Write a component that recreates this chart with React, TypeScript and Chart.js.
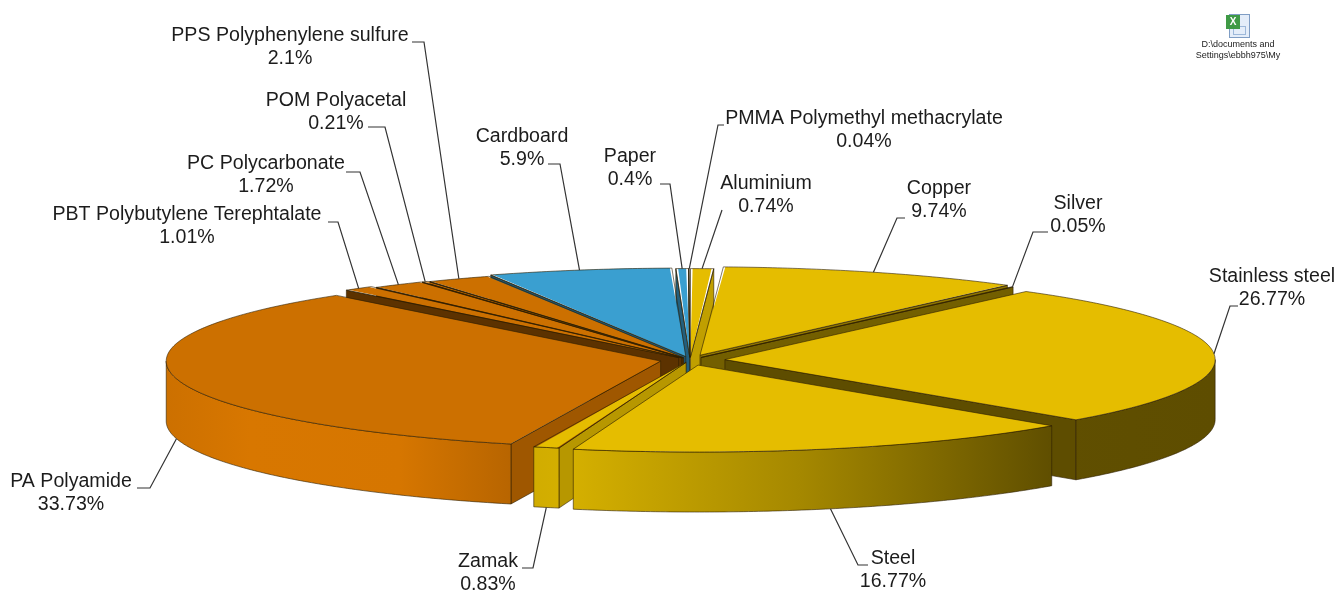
import React, { useEffect, useRef } from "react";
import { Chart, registerables } from "chart.js";

Chart.register(...registerables);

const materials = ["Aluminium", "Copper", "Silver", "Stainless steel", "Steel", "Zamak", "PA Polyamide",
  "PBT Polybutylene Terephtalate", "PC Polycarbonate", "POM Polyacetal", "PPS Polyphenylene sulfure",
  "Cardboard", "Paper", "PMMA Polymethyl methacrylate"];
const shares = [0.74, 9.74, 0.05, 26.77, 16.77, 0.83, 33.73, 1.01, 1.72, 0.21, 2.1, 5.9, 0.4, 0.04];

const YELLOW = [229, 189, 0];
const ORANGE = [204, 112, 0];
const BLUE = [58, 159, 208];
const sliceColors = [YELLOW, YELLOW, YELLOW, YELLOW, YELLOW, YELLOW, ORANGE, ORANGE, ORANGE, ORANGE, ORANGE, BLUE, BLUE, BLUE];
const explode = [60, 116, 72, 140, 120, 56, 120, 72, 60, 56, 56, 80, 60, 60];
const faceShade = [0.84, 0.62, 0.5, 0.41, 1, 0.8, 0.78, 0.45, 0.45, 0.45, 0.5, 0.55, 0.6, 0.6];

// wall light across the page: [x, brightness]
const wallLight = [[165, 1.0], [250, 1.06], [400, 1.05], [510, 0.9], [570, 0.93], [800, 0.72], [1050, 0.42], [1215, 0.41]];

// label centre x, first line middle y, then elbow of the leader
const labelBox = [
  { x: 766, y: 184, lx: 722, ly: 210 }, { x: 939, y: 189, lx: 905, ly: 218, ex: 897 },
  { x: 1078, y: 204, lx: 1048, ly: 232, ex: 1033 }, { x: 1272, y: 277, lx: 1238, ly: 306, ex: 1230 },
  { x: 893, y: 559, lx: 868, ly: 565, ex: 858 }, { x: 488, y: 562, lx: 522, ly: 568, ex: 533 },
  { x: 71, y: 482, lx: 137, ly: 488, ex: 150 }, { x: 187, y: 215, lx: 328, ly: 222, ex: 338 },
  { x: 266, y: 164, lx: 346, ly: 172, ex: 360 }, { x: 336, y: 101, lx: 368, ly: 127, ex: 385 },
  { x: 290, y: 36, lx: 412, ly: 42, ex: 424 }, { x: 522, y: 137, lx: 548, ly: 164, ex: 560 },
  { x: 630, y: 157, lx: 660, ly: 184, ex: 670 }, { x: 864, y: 119, lx: 724, ly: 125, ex: 718 },
];

const K = 0.176;
const DEPTH = 60;
const FONT = '19.6px "Liberation Sans", Arial, sans-serif';

const rgb = (c: number[], f: number) =>
  `rgb(${Math.min(255, Math.round(c[0] * f))},${Math.min(255, Math.round(c[1] * f))},${Math.min(255, Math.round(c[2] * f))})`;

function geom(chart: any) {
  const meta = chart.getDatasetMeta(0);
  return meta.data.map((arc: any, i: number) => {
    const p = arc.getProps(["x", "y", "startAngle", "endAngle", "outerRadius", "circumference"], true);
    const d = (explode[i] || 0) / 4;
    const fix = 1 - Math.sin(Math.min(Math.PI, p.circumference));
    const r = p.outerRadius + d * fix;
    const mid = (p.startAngle + p.endAngle) / 2;
    const at = (a: number, rr: number, h: number) => [
      p.x + d * Math.cos(mid) + rr * Math.cos(a),
      p.y + K * (d * Math.sin(mid) + rr * Math.sin(a)) + h,
    ];
    return { ...p, d, r, mid, at, i };
  });
}

const poly = (ctx: CanvasRenderingContext2D, pts: number[][]) => {
  ctx.beginPath();
  pts.forEach((q, n) => (n ? ctx.lineTo(q[0], q[1]) : ctx.moveTo(q[0], q[1])));
  ctx.closePath();
};

const arcPts = (g: any, a0: number, a1: number, h: number) => {
  const out: number[][] = [];
  const n = Math.max(2, Math.ceil((a1 - a0) / 0.01));
  for (let s = 0; s <= n; s++) out.push(g.at(a0 + ((a1 - a0) * s) / n, g.r, h));
  return out;
};

const EDGE = "rgba(45,30,0,0.75)";

const pie3d = {
  id: "pie3d",
  beforeDatasetsDraw(chart: any) {
    const ctx: CanvasRenderingContext2D = chart.ctx;
    const gs = geom(chart).slice().sort((a: any, b: any) => Math.sin(a.mid) - Math.sin(b.mid));
    ctx.save();
    ctx.lineWidth = 0.8;
    ctx.strokeStyle = EDGE;
    for (const g of gs) {
      const c = sliceColors[g.i];
      const sFace = Math.sin(g.startAngle + Math.PI / 2) < 0;
      const eFace = Math.sin(g.endAngle + Math.PI / 2) > 0;
      const face = (a: number) => {
        poly(ctx, [g.at(a, 0, 0), g.at(a, g.r, 0), g.at(a, g.r, DEPTH), g.at(a, 0, DEPTH)]);
        ctx.fillStyle = rgb(c, faceShade[g.i]);
        ctx.fill();
        ctx.stroke();
      };
      if (sFace) face(g.startAngle);
      if (eFace) face(g.endAngle);
      const a0 = Math.max(g.startAngle, 0);
      const a1 = Math.min(g.endAngle, Math.PI);
      if (a1 > a0) {
        const top = arcPts(g, a0, a1, 0);
        const bot = arcPts(g, a0, a1, DEPTH).reverse();
        const grad = ctx.createLinearGradient(165, 0, 1215, 0);
        wallLight.forEach(([x, f]) => grad.addColorStop((x - 165) / 1050, rgb(c, f)));
        poly(ctx, [...top, ...bot]);
        ctx.fillStyle = grad;
        ctx.fill();
        ctx.stroke();
      }
    }
    ctx.restore();
    const area = chart.getDatasetMeta(0).data[0];
    ctx.save();
    ctx.translate(0, area.y);
    ctx.scale(1, K);
    ctx.translate(0, -area.y);
  },
  afterDatasetsDraw(chart: any) {
    const ctx: CanvasRenderingContext2D = chart.ctx;
    ctx.restore();
    const gs = geom(chart);
    ctx.save();
    ctx.lineWidth = 0.8;
    ctx.strokeStyle = EDGE;
    for (const g of gs) {
      poly(ctx, [g.at(0, 0, 0), ...arcPts(g, g.startAngle, g.endAngle, 0)]);
      ctx.stroke();
    }
    // leaders
    ctx.strokeStyle = "#333";
    ctx.lineWidth = 1.2;
    gs.forEach((g: any, i: number) => {
      const b: any = labelBox[i];
      const front = Math.sin(g.mid) > 0.1;
      const end = g.at(g.mid, g.r, front ? DEPTH : 0);
      ctx.beginPath();
      ctx.moveTo(b.lx, b.ly);
      if (b.ex !== undefined) ctx.lineTo(b.ex, b.ly);
      ctx.lineTo(end[0], end[1]);
      ctx.stroke();
    });
    // labels
    ctx.font = FONT;
    ctx.fillStyle = "#1c1c1c";
    ctx.textAlign = "center";
    ctx.textBaseline = "middle";
    materials.forEach((m, i) => {
      const b = labelBox[i];
      ctx.fillText(m, b.x, b.y);
      ctx.fillText(`${shares[i]}%`, b.x, b.y + 23);
    });
    // embedded object icon
    ctx.fillStyle = "#e4edf9";
    ctx.strokeStyle = "#7f9dc4";
    ctx.lineWidth = 1;
    ctx.fillRect(1229.5, 14.5, 20, 23);
    ctx.strokeRect(1229.5, 14.5, 20, 23);
    ctx.strokeStyle = "#9db8da";
    ctx.strokeRect(1233.5, 26.5, 12, 8);
    ctx.fillStyle = "#3f9a45";
    ctx.fillRect(1226, 15, 14, 14);
    ctx.fillStyle = "#fff";
    ctx.font = 'bold 10px "Liberation Sans"';
    ctx.fillText("X", 1233, 22.5);
    ctx.font = '9px "Liberation Sans", Tahoma, sans-serif';
    ctx.fillStyle = "#222";
    ctx.fillText("D:\\documents and", 1238, 45);
    ctx.fillText("Settings\\ebbh975\\My", 1238, 56);
    ctx.restore();
  },
};

export default function App() {
  const ref = useRef<HTMLCanvasElement>(null);
  useEffect(() => {
    const chart = new Chart(ref.current as HTMLCanvasElement, {
      type: "pie",
      data: {
        labels: materials,
        datasets: [{
          data: shares,
          backgroundColor: sliceColors.map((c) => rgb(c, 1)),
          borderWidth: 0,
          offset: explode,
          clip: false,
        } as any],
      },
      options: {
        responsive: false,
        animation: false,
        devicePixelRatio: 1,
        radius: 490,
        layout: { padding: { left: 42, top: 130 } },
        plugins: { legend: { display: false }, tooltip: { enabled: false } },
      } as any,
      plugins: [pie3d],
    });
    return () => chart.destroy();
  }, []);
  return (
    <canvas
      ref={ref}
      width={1338}
      height={590}
      style={{ position: "fixed", left: 0, top: 0, width: 1338, height: 590, background: "#fff" }}
    />
  );
}
